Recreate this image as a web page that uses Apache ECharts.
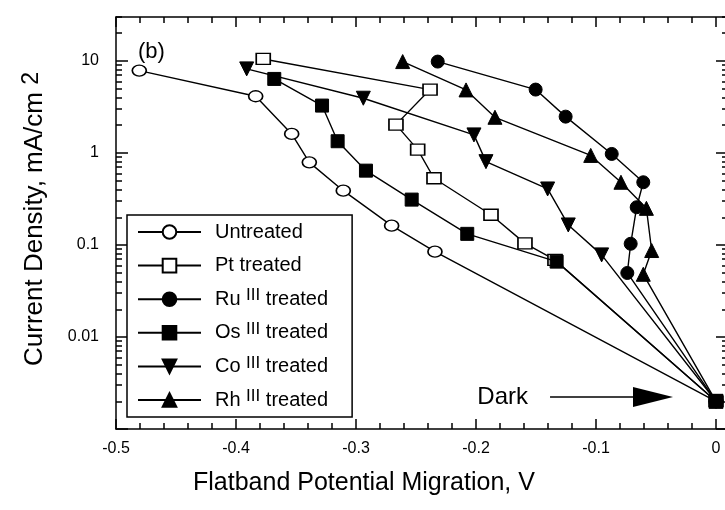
<!DOCTYPE html>
<html><head><meta charset="utf-8">
<script src="https://cdn.jsdelivr.net/npm/echarts@6/dist/echarts.min.js"></script>
<style>html,body{margin:0;padding:0;background:#fff}#c{width:725px;height:510px}</style>
</head><body><div id="c"></div>
<script>
// ---- data ----
const untreatedX = [-0.4806, -0.3836, -0.3536, -0.3389, -0.3106, -0.2703, -0.2342, 0];
const untreatedY = [7.85, 4.13, 1.61, 0.79, 0.389, 0.162, 0.0846, 0.002];
const ptX = [-0.3773, -0.2383, -0.2667, -0.2486, -0.235, -0.1875, -0.1592, -0.1342, 0];
const ptY = [10.5, 4.88, 2.03, 1.086, 0.531, 0.213, 0.104, 0.0687, 0.002];
const ruX = [-0.2319, -0.1503, -0.1253, -0.0869, -0.0606, -0.0661, -0.0711, -0.0739, 0];
const ruY = [9.83, 4.88, 2.48, 0.975, 0.48, 0.257, 0.103, 0.0496, 0.002];
const osX = [-0.3681, -0.3283, -0.3153, -0.2917, -0.2536, -0.2073, -0.1328, 0];
const osY = [6.37, 3.27, 1.34, 0.642, 0.311, 0.132, 0.0659, 0.002];
const coX = [-0.3911, -0.2939, -0.2017, -0.1917, -0.1403, -0.1231, -0.0953, 0];
const coY = [8.19, 3.93, 1.57, 0.804, 0.406, 0.165, 0.078, 0.002];
const rhX = [-0.2611, -0.2083, -0.1842, -0.1044, -0.0792, -0.058, -0.0536, -0.0606, 0];
const rhY = [9.83, 4.84, 2.44, 0.94, 0.48, 0.25, 0.087, 0.048, 0.002];
const seriesNames = ['Untreated', 'Pt treated', 'Ru III treated', 'Os III treated', 'Co III treated', 'Rh III treated'];
// ticks
const xTickLabels = [-0.5, -0.4, -0.3, -0.2, -0.1, 0];
const xMinorTicks = [-0.48, -0.46, -0.44, -0.42, -0.38, -0.36, -0.34, -0.32, -0.28, -0.26, -0.24, -0.22,
                     -0.18, -0.16, -0.14, -0.12, -0.08, -0.06, -0.04, -0.02];
const yTickLabels = [0.01, 0.1, 1, 10];
const yMajorTicks = [0.001, 0.01, 0.1, 1, 10];
const yMinorTicks = [0.002, 0.003, 0.004, 0.005, 0.006, 0.007, 0.008, 0.009,
                     0.02, 0.03, 0.04, 0.05, 0.06, 0.07, 0.08, 0.09,
                     0.2, 0.3, 0.4, 0.5, 0.6, 0.7, 0.8, 0.9,
                     2, 3, 4, 5, 6, 7, 8, 9, 20, 30];
// annotation ("Dark" arrow)
const darkArrow = { fromX: -0.1383, toX: -0.0525, y: 0.00223, label: 'Dark' };

// ---- chart ----
const FONT = '"Liberation Sans", Arial, sans-serif';
const BLACK = '#000';
const zip = (xs, ys) => xs.map((x, i) => [x, ys[i]]);
const XMIN = -0.5, XMAX = 0.01, YMIN = 0.001, YMAX = 30;

function xAx(pos, ticks, len, main) {
  return {
    type: 'value', position: pos, min: XMIN, max: XMAX,
    axisLine: { show: main, onZero: false, lineStyle: { color: BLACK, width: 1.5 } },
    axisTick: { show: true, inside: true, length: len, customValues: ticks, lineStyle: { color: BLACK, width: 1.5 } },
    axisLabel: (main && pos === 'bottom') ? {
      show: true, customValues: xTickLabels, margin: 12, color: BLACK, fontSize: 16, fontFamily: FONT,
      formatter: v => String(Math.round(v * 10) / 10)
    } : { show: false },
    splitLine: { show: false }
  };
}
function yAx(pos, ticks, len, main) {
  const o = {
    type: 'log', logBase: 10, position: pos, min: YMIN, max: YMAX,
    axisLine: { show: main, onZero: false, lineStyle: { color: BLACK, width: 1.5 } },
    axisTick: { show: true, inside: true, length: len, customValues: ticks, lineStyle: { color: BLACK, width: 1.5 } },
    axisLabel: (main && pos === 'left') ? {
      show: true, customValues: yTickLabels, margin: 17, color: BLACK, fontSize: 16, fontFamily: FONT,
      formatter: v => String(+(+v).toPrecision(1))
    } : { show: false },
    splitLine: { show: false }, minorTick: { show: false }
  };
  if (main && pos === 'left') {
    o.name = 'Current Density, mA/cm {s|2}';
    o.nameLocation = 'middle';
    o.nameRotate = 90;
    o.nameGap = 66;
    o.nameTextStyle = {
      color: BLACK, fontSize: 26, fontFamily: FONT, lineHeight: 30, padding: [0, 0, 0, 8],
      rich: { s: { fontSize: 23, fontFamily: FONT, color: BLACK, lineHeight: 18, verticalAlign: 'top' } }
    };
  }
  return o;
}

const openStyle = { color: '#fff', borderColor: BLACK, borderWidth: 1.5 };
const fillStyle = { color: BLACK, borderColor: BLACK, borderWidth: 1 };
function ser(name, xs, ys, symbol, size, style, extra) {
  return Object.assign({
    name, type: 'line', data: zip(xs, ys), symbol, symbolSize: size, showSymbol: true,
    lineStyle: { color: BLACK, width: 1.4 }, itemStyle: style, emphasis: { disabled: true },
    animation: false, z: 2
  }, extra || {});
}

const series = [
  ser(seriesNames[0], untreatedX, untreatedY, 'circle', [14, 11], openStyle, {
    markLine: {
      silent: true, symbol: ['none', 'none'],
      lineStyle: { color: BLACK, width: 1.5, type: 'solid' },
      label: { show: true, position: 'start', formatter: darkArrow.label, color: BLACK, fontSize: 24, fontFamily: FONT, distance: 22 },
      data: [[{ coord: [darkArrow.fromX, darkArrow.y] }, { coord: [darkArrow.toX, darkArrow.y] }]]
    },
    markPoint: {
      silent: true, label: { show: false },
      data: [{ coord: [darkArrow.toX, darkArrow.y], symbol: 'triangle', symbolSize: [20, 40], symbolRotate: -90,
               itemStyle: { color: BLACK, borderWidth: 0 } }]
    }
  }),
  ser(seriesNames[1], ptX, ptY, 'rect', [14, 11], openStyle),
  ser(seriesNames[2], ruX, ruY, 'circle', 13, fillStyle),
  ser(seriesNames[3], osX, osY, 'rect', 13, fillStyle, { z: 3 }),
  ser(seriesNames[4], coX, coY, 'triangle', 14, fillStyle, { symbolRotate: 180 }),
  ser(seriesNames[5], rhX, rhY, 'triangle', 14, fillStyle)
];

const option = {
  backgroundColor: '#fff',
  animation: false,
  grid: { left: 116, right: -3, top: 17, bottom: 81, outerBoundsMode: 'none', containLabel: false },
  title: [
    { text: '(b)', left: 138, top: 41, padding: 0, textStyle: { fontSize: 22, fontWeight: 'normal', color: BLACK, fontFamily: FONT } },
    { text: 'Flatband Potential Migration, V', left: 193, top: 471, padding: 0, textStyle: { fontSize: 25, fontWeight: 'normal', color: BLACK, fontFamily: FONT } }
  ],
  legend: {
    show: true, orient: 'vertical', left: 127, top: 215, padding: [5, 24, 5, 10],
    itemGap: 9.6, itemWidth: 63, itemHeight: 17, selectedMode: false,
    borderColor: BLACK, borderWidth: 1.5, backgroundColor: '#fff',
    data: seriesNames,
    textStyle: {
      color: BLACK, fontSize: 20, fontFamily: FONT, lineHeight: 24,
      rich: {
        g: { width: 9, fontSize: 20, lineHeight: 24 },
        n: { fontSize: 20, fontFamily: FONT, color: BLACK, lineHeight: 24 },
        s: { fontSize: 17, fontFamily: FONT, color: BLACK, lineHeight: 17, verticalAlign: 'top' }
      }
    },
    formatter: name => {
      const m = name.match(/^(\w+) III (.*)$/);
      if (m) return '{g| }{n|' + m[1] + ' }{s|III}{n| ' + m[2] + '}';
      return '{g| }{n|' + name + '}';
    }
  },
  xAxis: [
    xAx('bottom', xTickLabels, 10, true),
    xAx('bottom', xMinorTicks, 6, false),
    xAx('top', xTickLabels, 10, true),
    xAx('top', xMinorTicks, 6, false)
  ],
  yAxis: [
    yAx('left', yMajorTicks, 12, true),
    yAx('left', yMinorTicks, 6, false),
    yAx('right', yMajorTicks, 12, true),
    yAx('right', yMinorTicks, 6, false)
  ],
  series
};
const chart = echarts.init(document.getElementById('c'), null, { renderer: 'canvas' });
chart.setOption(option);
</script></body></html>
